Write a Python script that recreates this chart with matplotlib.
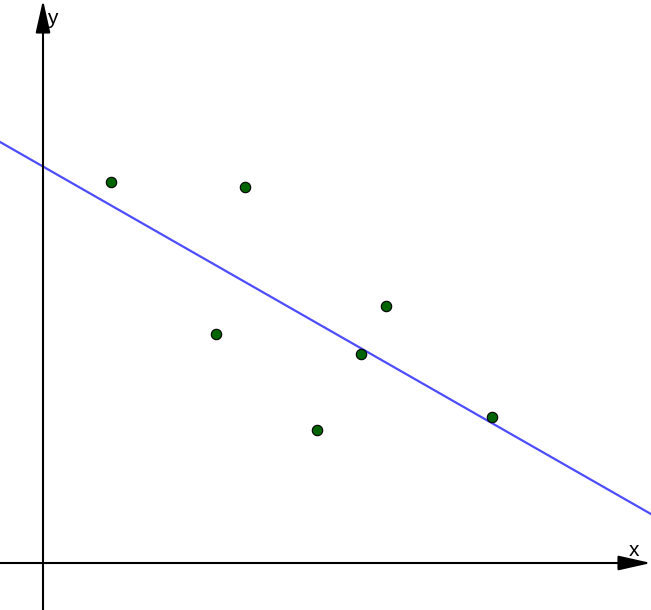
import numpy as np
import matplotlib
matplotlib.use('Agg')
import matplotlib.pyplot as plt

# Scatter points (data units, 1 unit = 50 px in the reference)
x_pts = [1.36, 4.04, 3.46, 6.86, 6.36, 5.48, 8.98]
y_pts = [7.62, 7.52, 4.58, 5.14, 4.18, 2.66, 2.92]

xlim = (-0.86, 12.16)
ylim = (-0.94, 11.26)

# Least squares line through the points
slope, intercept = np.polyfit(x_pts, y_pts, 1)

fig = plt.figure(figsize=(6.51, 6.10), dpi=100)
ax = fig.add_axes([0, 0, 1, 1])
ax.set_xlim(xlim)
ax.set_ylim(ylim)
ax.axis('off')

# Axes with arrowheads
arrow = dict(arrowstyle='-|>,head_length=2.0,head_width=0.45', color='black',
             lw=1.5, mutation_scale=10, shrinkA=0, shrinkB=0)
ax.annotate('', xy=(xlim[1], 0), xytext=(xlim[0], 0), arrowprops=arrow)
ax.annotate('', xy=(0, ylim[1]), xytext=(0, ylim[0]), arrowprops=arrow)
ax.text(11.72, 0.06, 'x', fontsize=15, ha='left', va='bottom', family='Liberation Sans')
ax.text(0.08, 10.88, 'y', fontsize=15, ha='left', va='center', family='Liberation Sans')

# Regression line
xs = np.array(xlim)
ax.plot(xs, slope * xs + intercept, color='#4d4dff', lw=1.6, zorder=2)

# Points
ax.plot(x_pts, y_pts, 'o', color='#006400', markeredgecolor='black',
        markeredgewidth=0.8, markersize=7.5, zorder=3)

fig.savefig('out.png', dpi=100)
